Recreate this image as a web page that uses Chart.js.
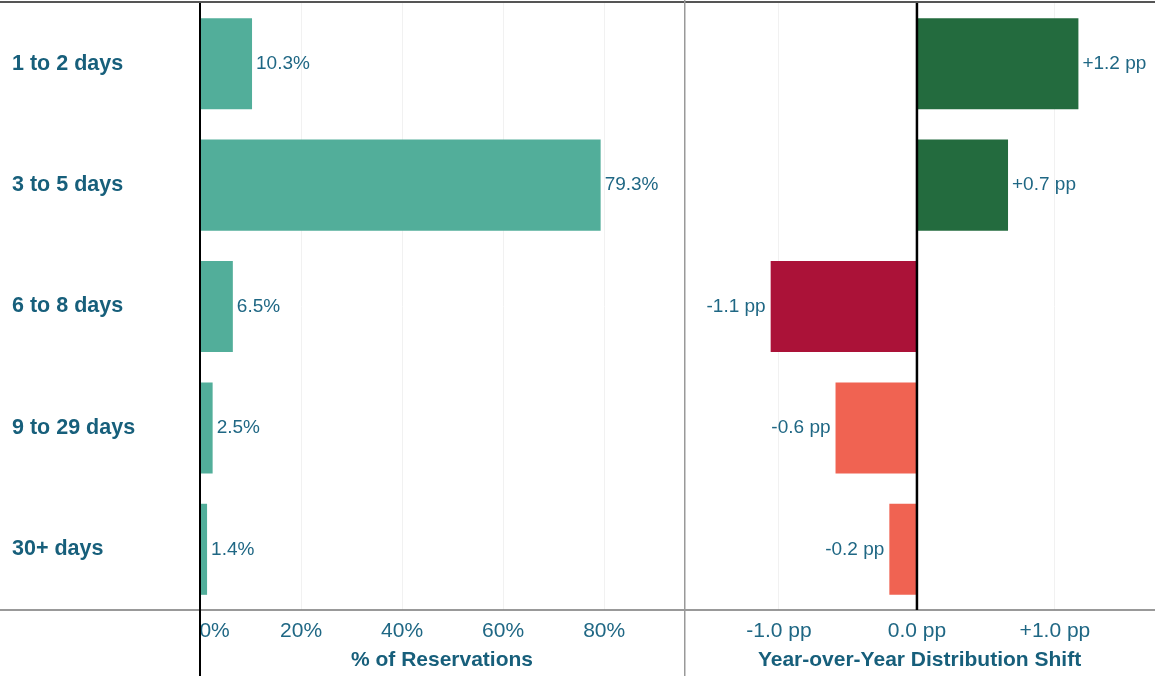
<!DOCTYPE html>
<html lang="en">
<head>
  <meta charset="UTF-8">
  <title>Reservation Length Distribution</title>
  <script src="https://cdn.jsdelivr.net/npm/chart.js"></script>
  <style>
    body { margin: 0; background: #fff; }
    #wrap { position: relative; width: 1155px; height: 676px; }
    .panel { position: absolute; top: 0; height: 676px; }
    #left { left: 0; width: 684px; }
    #right { left: 684px; width: 471px; }
  </style>
</head>
<body>
  <div id="wrap">
    <div class="panel" id="left"><canvas id="shareChart"></canvas></div>
    <div class="panel" id="right"><canvas id="shiftChart"></canvas></div>
  </div>

  <script>
    // data
    const categories = ['1 to 2 days', '3 to 5 days', '6 to 8 days', '9 to 29 days', '30+ days'];
    const sharePct = [10.3, 79.3, 6.5, 2.5, 1.4];
    const shiftPp = [1.17, 0.66, -1.06, -0.59, -0.2];
    const shareTicks = [0, 20, 40, 60, 80];
    const shiftTicks = [-1, 0, 1];

    const FONT = '"Liberation Sans", Arial, sans-serif';
    const TEAL = '#1f6784';
    const TEAL_DARK = '#175f7b';

    const fmtShare = v => v.toFixed(1) + '%';
    const fmtShift = v => (v > 0 ? '+' : '') + v.toFixed(1) + ' pp';

    function makeValueLabels(format) {
      return {
        id: 'valueLabels',
        afterDatasetsDraw(chart) {
          const ctx = chart.ctx;
          const data = chart.data.datasets[0].data;
          ctx.save();
          ctx.font = '19px ' + FONT;
          ctx.fillStyle = TEAL;
          ctx.textBaseline = 'middle';
          chart.getDatasetMeta(0).data.forEach((bar, i) => {
            const v = data[i];
            if (v >= 0) {
              ctx.textAlign = 'left';
              ctx.fillText(format(v), bar.x + 4, bar.y);
            } else {
              ctx.textAlign = 'right';
              ctx.fillText(format(v), bar.x - 5, bar.y);
            }
          });
          ctx.restore();
        }
      };
    }

    // frame rules: top/bottom lines, zero line, panel divider
    function makeFrame(opts) {
      return {
        id: 'frame',
        afterDraw(chart) {
          const { ctx, chartArea: a, width, height } = chart;
          const x0 = chart.scales.x.getPixelForValue(0);
          ctx.save();
          ctx.strokeStyle = '#555';
          ctx.lineWidth = 2;
          ctx.beginPath(); ctx.moveTo(0, a.top - 1); ctx.lineTo(width, a.top - 1); ctx.stroke();
          ctx.strokeStyle = '#777';
          ctx.lineWidth = 1.5;
          ctx.beginPath(); ctx.moveTo(0, a.bottom); ctx.lineTo(width, a.bottom); ctx.stroke();
          if (opts.divider) {
            ctx.strokeStyle = '#999';
            ctx.lineWidth = 2;
            ctx.beginPath(); ctx.moveTo(0.5, 0); ctx.lineTo(0.5, height); ctx.stroke();
          }
          ctx.strokeStyle = '#000';
          ctx.lineWidth = opts.zeroWidth;
          ctx.beginPath(); ctx.moveTo(x0, a.top); ctx.lineTo(x0, opts.zeroToBottom ? height : a.bottom); ctx.stroke();
          ctx.restore();
        }
      };
    }

    const gridColor = c => (c.tick && c.tick.value === 0) ? 'rgba(0,0,0,0)' : '#f1f1f1';

    new Chart(document.getElementById('shareChart'), {
      type: 'bar',
      data: {
        labels: categories,
        datasets: [{
          data: sharePct,
          backgroundColor: '#52ae9a',
          barPercentage: 0.75,
          categoryPercentage: 1
        }]
      },
      options: {
        indexAxis: 'y',
        responsive: true,
        maintainAspectRatio: false,
        animation: false,
        layout: { padding: { left: 12, top: 3, right: 0, bottom: 0 } },
        plugins: { legend: { display: false }, tooltip: { enabled: false } },
        scales: {
          x: {
            min: 0,
            max: 95.8,
            afterBuildTicks: s => { s.ticks = shareTicks.map(value => ({ value })); },
            afterFit: s => { s.height = 66; },
            grid: { color: gridColor, drawTicks: false },
            border: { display: false },
            ticks: {
              color: TEAL,
              padding: 9,
              font: { family: FONT, size: 21 },
              callback: v => v === 0 ? '     0%' : v + '%'
            },
            title: {
              display: true,
              text: '% of Reservations',
              color: TEAL_DARK,
              font: { family: FONT, size: 21, weight: 'bold' },
              padding: { top: 0, bottom: 3 }
            }
          },
          y: {
            afterFit: s => { s.width = 188; s.paddingTop = 0; s.paddingBottom = 0; },
            grid: { display: false },
            border: { display: false },
            ticks: {
              crossAlign: 'far',
              color: TEAL_DARK,
              font: { family: FONT, size: 21.5, weight: 'bold' }
            }
          }
        }
      },
      plugins: [makeValueLabels(fmtShare), makeFrame({ zeroToBottom: true, zeroWidth: 2 })]
    });

    new Chart(document.getElementById('shiftChart'), {
      type: 'bar',
      data: {
        labels: categories,
        datasets: [{
          data: shiftPp,
          backgroundColor: c => {
            const v = c.raw;
            if (v > 0) return '#236b3e';
            if (v <= -1) return '#ab1238';
            return '#f06352';
          },
          barPercentage: 0.75,
          categoryPercentage: 1
        }]
      },
      options: {
        indexAxis: 'y',
        responsive: true,
        maintainAspectRatio: false,
        animation: false,
        layout: { padding: { left: 0, top: 3, right: 0, bottom: 0 } },
        plugins: { legend: { display: false }, tooltip: { enabled: false } },
        scales: {
          x: {
            min: -1.688,
            max: 1.725,
            afterBuildTicks: s => { s.ticks = shiftTicks.map(value => ({ value })); },
            afterFit: s => { s.height = 66; },
            grid: { color: gridColor, drawTicks: false },
            border: { display: false },
            ticks: {
              color: TEAL,
              padding: 9,
              font: { family: FONT, size: 21 },
              callback: v => v === 0 ? '0.0 pp' : fmtShift(v)
            },
            title: {
              display: true,
              text: 'Year-over-Year Distribution Shift',
              color: TEAL_DARK,
              font: { family: FONT, size: 21, weight: 'bold' },
              padding: { top: 0, bottom: 3 }
            }
          },
          y: { display: false }
        }
      },
      plugins: [makeValueLabels(fmtShift), makeFrame({ divider: true, zeroToBottom: false, zeroWidth: 2.5 })]
    });
  </script>
</body>
</html>
